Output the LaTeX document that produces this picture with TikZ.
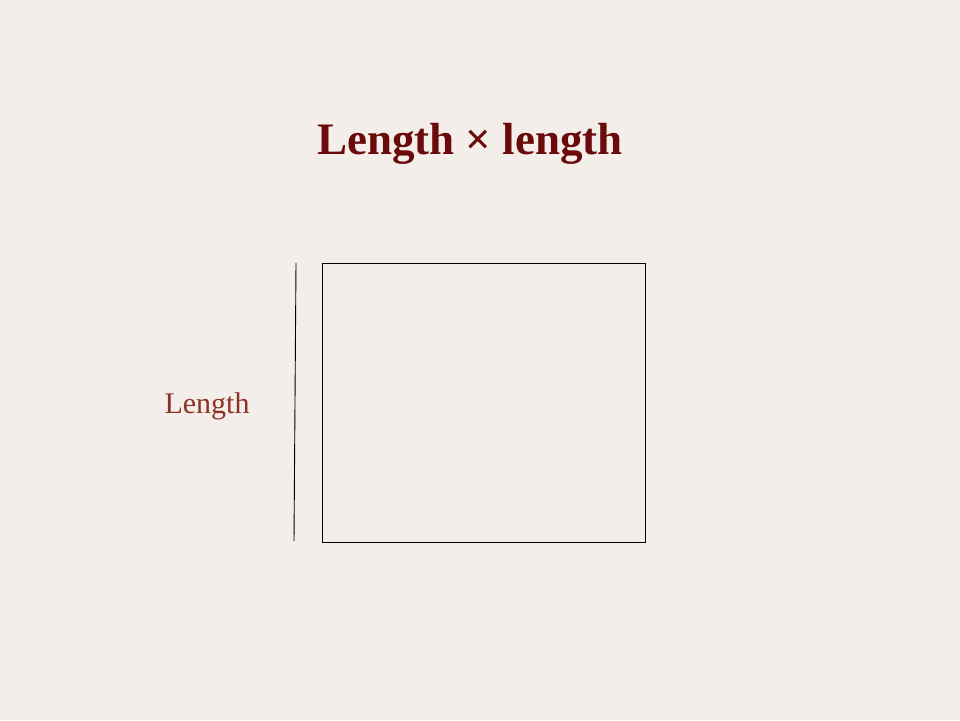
\documentclass[tikz,border=0pt]{standalone}
\usepackage{fontspec}
\setmainfont{Liberation Serif}
\usepackage{tikz}
\usetikzlibrary{positioning,calc}
\definecolor{fond}{HTML}{F3EEE9}
\definecolor{titrerouge}{HTML}{6A0A0A}
\definecolor{brique}{HTML}{8E3226}
\tikzset{
  titre/.style={font=\fontsize{45}{54}\selectfont\bfseries, text=titrerouge, inner sep=0pt},
  etiq/.style={font=\fontsize{30}{36}\selectfont, text=brique, inner sep=0pt},
  carre/.style={rectangle, draw=black, line width=0.9pt, minimum width=323pt, minimum height=279pt, inner sep=0pt},
  trait/.style={draw=black, line width=0.9pt},
}
\begin{document}
\begin{tikzpicture}[x=1pt,y=1pt]
  \fill[fond] (0,0) rectangle (960,720);
  \useasboundingbox (0,0) rectangle (960,720);
  \node[titre] (titre) at (470,576) {Length × length};
  \node[carre] (aire) at (483.5,317.5) {};
  \coordinate (haut) at (296,457);
  \coordinate (bas) at (294,179);
  \draw[trait] (haut) -- (bas);
  \node[etiq] (long) at (207,314) {Length};
\end{tikzpicture}
\end{document}
